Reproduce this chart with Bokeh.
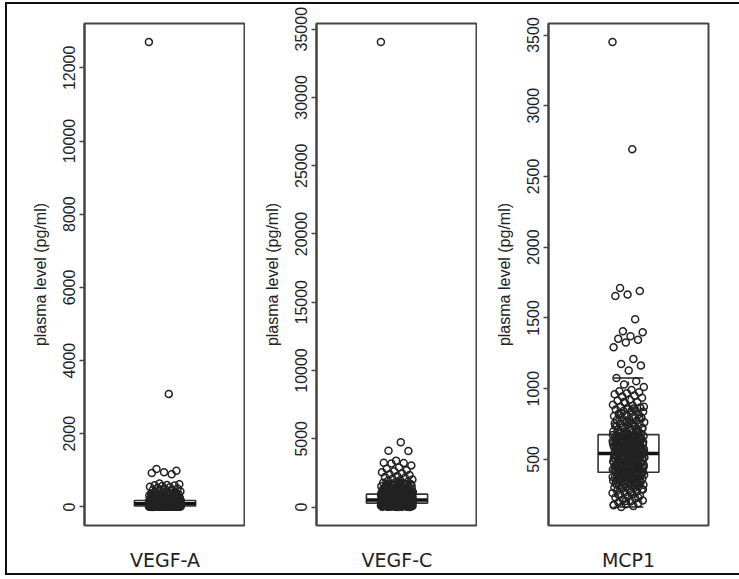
import numpy as np
from bokeh.plotting import figure
from bokeh.layouts import row
from bokeh.models import Range1d, FixedTicker, NumeralTickFormatter
from bokeh.embed import file_html
from bokeh.resources import INLINE

# ---------------- data ----------------
categories = ["VEGF-A", "VEGF-C", "MCP1"]

vegfa_values = [
    12704, 3089, 1037, 990, 948, 925, 894, 640, 620, 600, 590, 585, 570, 555, 540,
    520, 505, 490, 470, 455, 440, 425, 410,
    400, 392, 384, 376, 368, 360, 352, 344, 336, 328, 320, 312, 304, 296, 288, 280,
    272, 265, 258, 251, 244, 238, 232, 226, 220, 215, 210, 205, 200, 196, 192, 188,
    184, 180, 178, 350, 310, 270, 240, 215, 195, 185, 300, 260, 230, 205, 190, 182,
    330, 250,
    175, 173, 171, 169, 167, 165, 163, 161, 159, 157, 155, 153, 151, 149, 147, 145,
    143, 141, 139, 137, 135, 133, 131, 129, 127, 125, 123, 121, 119, 117, 115, 113,
    111, 109, 107, 105, 103, 101, 99, 97, 95, 93, 91, 160, 150, 140, 130, 120, 110,
    100, 170, 146, 126, 106, 96,
    89, 88, 86, 85, 83, 82, 80, 79, 77, 76, 74, 73, 71, 70, 68, 67, 65, 64, 62, 61,
    59, 58, 56, 55, 53, 52, 50, 49, 47, 46, 44, 43, 41, 40, 38, 37, 35, 34, 32, 31,
    29, 28, 85, 75, 65, 55, 45, 35, 80, 60, 40, 70, 50, 30, 87,
    27, 26, 25, 25, 24, 23, 22, 22, 21, 20, 19, 19, 18, 17, 16, 16, 15, 14, 13, 13,
    12, 11, 10, 10, 9, 8, 7, 7, 6, 5, 4, 4, 3, 2, 1, 24, 20, 16, 12, 8, 4, 22, 18,
    14, 10, 6, 2, 26, 21, 15, 11, 5, 3, 17, 9,
    330, 290, 255, 225, 200, 185, 172, 162, 152, 142, 132, 122, 112, 102, 94, 86,
    78, 72, 66, 60, 54, 48, 42, 36, 30, 26, 22, 18, 14, 10, 6, 3, 240, 210, 168,
    138, 116, 98, 84, 69, 57, 46, 33, 21, 12, 7, 280, 190, 155, 125,
]

vegfc_values = [
    34056, 4740, 4120, 4100, 3400, 3250, 3220, 3190, 3050, 2900, 2800, 2700, 2620,
    2550, 2480, 2400, 2350, 2280, 2200, 2150, 2080, 2020, 1960,
    1900, 1860, 1820, 1780, 1750, 1710, 1680, 1650, 1620, 1590, 1560, 1530, 1500,
    1475, 1450, 1425, 1400, 1380, 1360, 1340, 1320, 1300, 1280, 1260, 1240, 1220,
    1200, 1185, 1170, 1155, 1140, 1125, 1110, 1095, 1080, 1068, 1056, 1044, 1032,
    1020, 1010, 1000, 990, 982, 975, 968, 961, 955, 950, 946, 1380, 1210, 1150,
    1050, 1740, 1620, 1290, 1100, 985, 1460,
    940, 930, 922, 914, 905, 897, 890, 882, 874, 866, 858, 850, 843, 836, 828, 820,
    812, 805, 798, 790, 782, 775, 768, 760, 752, 745, 738, 730, 722, 715, 708, 700,
    692, 685, 678, 670, 662, 655, 648, 640, 632, 625, 618, 610, 602, 595, 588, 580,
    572, 565, 558, 550, 542, 535, 528, 520, 513, 705, 640, 580,
    505, 500, 496, 492, 488, 484, 480, 476, 472, 468, 464, 460, 456, 452, 448, 444,
    440, 436, 432, 428, 424, 420, 416, 412, 408, 404, 400, 396, 392, 388, 384, 380,
    376, 372, 368, 364, 360, 356, 352, 348, 344, 340, 336, 332, 328, 324, 320, 316,
    312, 308, 304, 300, 296, 292, 470, 430, 390, 350, 310, 450,
    288, 282, 276, 270, 264, 258, 252, 246, 240, 234, 228, 222, 216, 210, 204, 198,
    192, 186, 180, 174, 168, 162, 156, 150, 144, 138, 132, 126, 120, 114, 108, 102,
    96, 90, 84, 78, 72, 66, 60, 54, 48, 42, 36, 30, 24, 18, 12, 10, 250, 200, 150,
    100, 60, 20, 270, 230, 180, 130, 80, 40,
    1480, 1320, 1190, 1090, 1020, 960, 910, 870, 830, 790, 750, 715, 680, 650, 620,
    590, 560, 530, 510, 490, 470, 455, 438, 422, 406, 390, 374, 358, 342, 326, 310,
    295, 280, 265, 250, 235, 220, 205, 190, 175, 160, 145, 130, 115, 100, 85, 70,
    55, 40, 25, 15, 600, 540, 480, 420, 360, 300, 240, 180, 120, 700, 800, 900,
    1000, 1150, 1250, 1350, 1600, 1800,
]

mcp1_values = [
    3450, 2693, 1712, 1690, 1665, 1655, 1490, 1405, 1398, 1370, 1352, 1345, 1327,
    1292, 1210, 1175, 1163, 1129,
    1075, 1052, 1030, 1012, 990, 982, 975, 968, 960, 951, 944, 936, 921, 915, 903,
    898, 887, 880, 871, 866, 858, 853, 847, 842, 836, 829, 823, 818, 812, 806, 801,
    795, 790, 784, 779, 773, 768, 762, 757, 751, 746, 741, 737, 731, 726, 722, 716,
    711, 706, 701, 697, 692, 688, 683, 679,
    674, 671, 668, 665, 662, 659, 657, 654, 651, 648, 646, 643, 640, 637, 635, 632,
    629, 626, 624, 621, 618, 616, 613, 610, 607, 605, 602, 599, 597, 594, 591, 589,
    586, 583, 580, 578, 575, 572, 570, 567, 564, 562, 559, 556, 554, 551, 549, 546,
    544, 543, 612, 588, 631, 566, 650, 603, 577, 639, 558, 620,
    541, 539, 537, 534, 532, 529, 527, 524, 522, 519, 517, 514, 512, 509, 507, 504,
    502, 499, 497, 494, 492, 489, 487, 484, 482, 479, 477, 474, 472, 469, 467, 464,
    462, 459, 457, 454, 452, 449, 447, 444, 442, 439, 437, 434, 432, 429, 427, 424,
    422, 419, 417, 414, 412, 410, 530, 495, 461, 476, 508, 445,
    408, 404, 401, 398, 395, 392, 389, 386, 383, 380, 377, 374, 371, 368, 365, 362,
    359, 356, 352, 349, 346, 342, 339, 335, 332, 328, 325, 321, 317, 313, 309, 305,
    301, 297, 292, 288, 283, 278, 273, 268, 262, 256, 250, 244, 238, 231, 224, 217,
    210, 203, 196, 189, 182, 176, 170, 164, 390, 372, 354, 336,
    905, 872, 845, 815, 790, 770, 755, 740, 725, 715, 705, 695, 686, 678, 672, 666,
    660, 653, 647, 641, 634, 628, 622, 615, 609, 601, 596, 590, 584, 579, 573, 568,
    563, 557, 552, 547, 545, 540, 535, 531, 526, 521, 516, 511, 506, 501, 496, 491,
    486, 481, 476, 471, 466, 461, 456, 451, 446, 441, 436, 431, 426, 421, 416, 411,
    406, 400, 394, 388, 381, 375, 367, 358, 348, 338, 327, 315, 302, 287, 270, 250,
    230, 205, 180, 860, 826, 797, 763, 735, 712, 690,
]

# box statistics: lower whisker, Q1, median, Q3, upper whisker
vegfa_box = [0, 27, 90, 176, 400]
vegfc_box = [0, 290, 508, 944, 1900]
mcp1_box = [164, 409, 542, 675, 1075]

vegfa_ticks = [0, 2000, 4000, 6000, 8000, 10000, 12000]
vegfc_ticks = [0, 5000, 10000, 15000, 20000, 25000, 30000, 35000]
mcp1_ticks = [500, 1000, 1500, 2000, 2500, 3000, 3500]

y_label = "plasma level (pg/ml)"

# ---------------- drawing ----------------
INK = "#222222"
FRAME = "#444444"


def panel(name, vals, box, ticks, width, left, right):
    v = np.asarray(vals, dtype=float)
    lo, hi = v.min(), v.max()
    pad = 0.04 * (hi - lo)
    p = figure(width=width, height=569, x_range=Range1d(0.5, 1.5),
               y_range=Range1d(lo - pad, hi + pad),
               output_backend="svg", toolbar_location=None,
               min_border_left=left, min_border_right=right,
               min_border_top=19, min_border_bottom=43)
    p.grid.visible = False
    p.background_fill_color = "white"
    p.border_fill_color = "white"
    p.outline_line_color = FRAME
    p.outline_line_width = 2

    wlo, q1, med, q3, whi = box
    bw, cw = 0.19, 0.093
    # whiskers
    p.segment(x0=[1, 1], y0=[q3, q1], x1=[1, 1], y1=[whi, wlo],
              line_color=INK, line_width=1.2, line_dash="4 3")
    p.segment(x0=[1 - cw, 1 - cw], y0=[whi, wlo], x1=[1 + cw, 1 + cw],
              y1=[whi, wlo], line_color=INK, line_width=1.5)
    # box
    p.quad(left=[1 - bw], right=[1 + bw], bottom=[q1], top=[q3],
           fill_color=None, line_color="#333333", line_width=1.6)
    p.segment(x0=[1 - bw], y0=[med], x1=[1 + bw], y1=[med],
              line_color="#111111", line_width=3.5)

    # jittered points (deterministic horizontal spread)
    n = len(v)
    idx = np.arange(n)
    jit = ((idx * 0.6180339887) % 1.0 - 0.5) * 0.2
    p.scatter(x=1 + jit, y=v, marker="circle", size=7, fill_color=None,
              line_color=INK, line_width=1.5)

    # y axis
    ya = p.yaxis[0]
    ya.ticker = FixedTicker(ticks=ticks)
    ya.formatter = NumeralTickFormatter(format="0")
    ya.minor_tick_line_color = None
    ya.major_tick_in = 0
    ya.major_tick_out = 5
    ya.major_tick_line_color = FRAME
    ya.major_tick_line_width = 1.5
    ya.axis_line_color = FRAME
    ya.axis_line_width = 2
    ya.major_label_orientation = "vertical"
    ya.major_label_text_font = "Liberation Sans"
    ya.major_label_text_font_size = "16px"
    ya.major_label_text_color = INK
    ya.major_label_standoff = 4
    ya.axis_label = y_label
    ya.axis_label_text_font = "Liberation Sans"
    ya.axis_label_text_font_size = "16px"
    ya.axis_label_text_font_style = "normal"
    ya.axis_label_text_color = INK
    ya.axis_label_standoff = 12

    # x axis: category name
    xa = p.xaxis[0]
    xa.ticker = FixedTicker(ticks=[1])
    xa.major_label_overrides = {1: name}
    xa.major_tick_line_color = None
    xa.minor_tick_line_color = None
    xa.axis_line_color = None
    xa.major_label_text_font = "DejaVu Sans"
    xa.major_label_text_font_size = "19px"
    xa.major_label_text_color = INK
    xa.major_label_standoff = 17
    return p


p1 = panel(categories[0], vegfa_values, vegfa_box, vegfa_ticks, 238, 77, 0)
p2 = panel(categories[1], vegfc_values, vegfc_box, vegfc_ticks, 232, 71, 0)
p3 = panel(categories[2], mcp1_values, mcp1_box, mcp1_ticks, 262, 71, 31)

root = row(p1, p2, p3, styles={
    "border-left": "2px solid #111111",
    "border-top": "2px solid #111111",
    "border-bottom": "2px solid #111111",
    "margin-left": "5px",
    "margin-top": "2px",
    "background-color": "white",
})

open("out.html", "w").write(file_html(root, INLINE))
